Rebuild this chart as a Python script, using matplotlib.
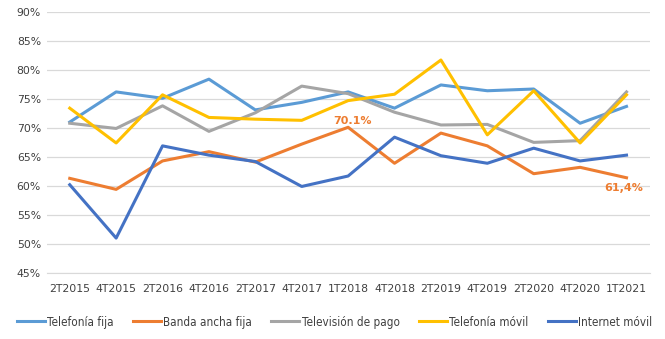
## Import Required Library
import matplotlib.pyplot as plt

# Quarter labels on the X-axis
quarters = ["2T2015", "4T2015", "2T2016", "4T2016", "2T2017", "4T2017", "1T2018",
            "4T2018", "2T2019", "4T2019", "2T2020", "4T2020", "1T2021"]

# Values for each service (percent)
telefonia_fija = [71.0, 76.2, 75.1, 78.4, 73.1, 74.4, 76.2, 73.4, 77.4, 76.4, 76.7, 70.8, 73.7]
banda_ancha = [61.3, 59.4, 64.3, 65.9, 64.1, 67.2, 70.1, 63.9, 69.1, 66.9, 62.1, 63.2, 61.4]
television = [70.8, 69.9, 73.8, 69.4, 72.6, 77.2, 75.9, 72.7, 70.5, 70.6, 67.5, 67.8, 76.2]
telefonia_movil = [73.4, 67.4, 75.7, 71.8, 71.5, 71.3, 74.7, 75.8, 81.7, 68.8, 76.4, 67.4, 75.7]
internet_movil = [60.2, 51.0, 66.9, 65.3, 64.2, 59.9, 61.7, 68.4, 65.2, 63.9, 66.5, 64.3, 65.3]

series_names = ["Telefonía fija", "Banda ancha fija", "Televisión de pago",
                "Telefonía móvil", "Internet móvil"]
series_values = [telefonia_fija, banda_ancha, television, telefonia_movil, internet_movil]
colors = ["#5B9BD5", "#ED7D31", "#A5A5A5", "#FFC000", "#4472C4"]

# Create Figure
fig = plt.figure(figsize=(6.65, 3.39), dpi=100)
ax = fig.add_axes([0.070, 0.195, 0.907, 0.770])

x = list(range(len(quarters)))

# Draw the lines
for name, values, color in zip(series_names, series_values, colors):
    ax.plot(x, values, color=color, linewidth=2.2, label=name, solid_joinstyle="round")

# Data labels on Banda ancha fija
ax.annotate("70.1%", (6, banda_ancha[6]), xytext=(3, 1), textcoords="offset points",
            ha="center", va="bottom", color="#ED7D31", fontsize=8, fontweight="bold")
ax.annotate("61,4%", (12, banda_ancha[12]), xytext=(-2, -4), textcoords="offset points",
            ha="center", va="top", color="#ED7D31", fontsize=8, fontweight="bold")

# Axes setup
ax.set_xlim(-0.5, 12.5)
ax.set_ylim(45, 90)
ax.set_yticks(range(45, 91, 5))
ax.set_yticklabels([f"{v}%" for v in range(45, 91, 5)])
ax.set_xticks(x)
ax.set_xticklabels(quarters)
ax.tick_params(axis="both", length=0, labelsize=7.8, colors="#404040")
ax.tick_params(axis="x", pad=8)
ax.tick_params(axis="y", pad=4)
ax.grid(axis="y", color="#D9D9D9", linewidth=0.9)
ax.set_axisbelow(True)
for side in ["top", "right", "left"]:
    ax.spines[side].set_visible(False)
ax.spines["bottom"].set_color("#D9D9D9")

# Legend at the bottom
fig.legend(loc="center", bbox_to_anchor=(0.503, 0.05), ncol=5, frameon=False,
           prop={"family": "DejaVu Sans", "size": 8.4, "stretch": "condensed"},
           handlelength=2.4, handletextpad=0.2, columnspacing=1.65,
           labelcolor="#404040")

# Save Chart
plt.savefig("out.png", dpi=100)
